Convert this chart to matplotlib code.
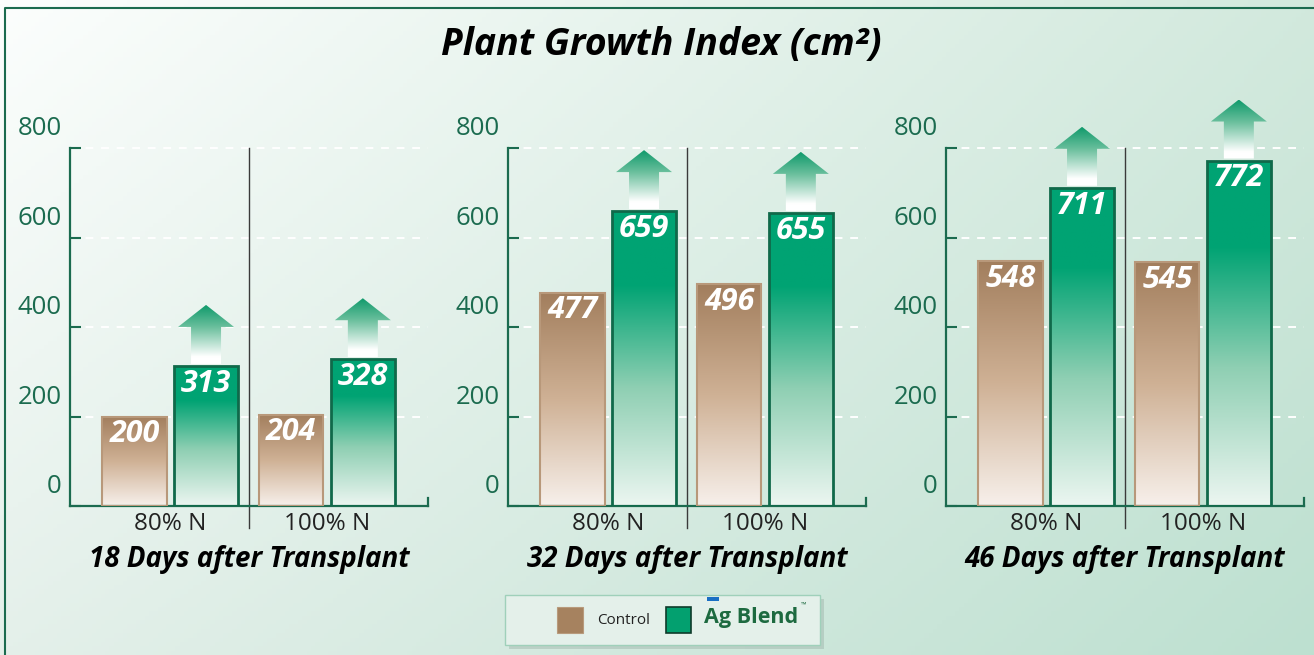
import numpy as np
import matplotlib
matplotlib.use("Agg")
import matplotlib.pyplot as plt
import matplotlib.colors as mcolors
from matplotlib.colors import LinearSegmentedColormap
from matplotlib.patches import Polygon, Rectangle

# data
days = ["18 Days after Transplant", "32 Days after Transplant", "46 Days after Transplant"]
groups = ["80% N", "100% N"]
control = [[200, 204], [477, 496], [548, 545]]
agblend = [[313, 328], [659, 655], [711, 772]]
yticks = [0, 200, 400, 600, 800]

plt.rcParams['font.family'] = ['Open Sans', 'DejaVu Sans']

W, H = 1314, 655
fig = plt.figure(figsize=(W / 100, H / 100), dpi=100)

green_dark = '#1b6b4f'
brown_cmap = LinearSegmentedColormap.from_list('brown', ['#f7f0eb', '#cfb195', '#a27e5d'])
green_cmap = LinearSegmentedColormap.from_list(
    'green', [(0, '#ecf6f1'), (0.4, '#8fcfb3'), (0.75, '#00a373'), (1, '#00a373')])
arrow_cmap = LinearSegmentedColormap.from_list(
    'arrow', [(0, 'white'), (0.12, 'white'), (0.62, '#6cc09e'), (1, '#109a6b')])
grad = np.linspace(1, 0, 256).reshape(-1, 1)

# background gradient + frame, in pixel coords
bg = fig.add_axes([0, 0, 1, 1], zorder=-10)
xx, yy = np.meshgrid(np.linspace(0, 1, 300), np.linspace(0, 1, 150))
tl, tr = np.array(mcolors.to_rgb('#fcfefd')), np.array(mcolors.to_rgb('#d2e9dd'))
bl, br = np.array(mcolors.to_rgb('#e4f0ea')), np.array(mcolors.to_rgb('#bde0d0'))
xx, yy = xx[..., None], yy[..., None]
img = tl * (1 - xx) * (1 - yy) + tr * xx * (1 - yy) + bl * (1 - xx) * yy + br * xx * yy
bg.imshow(img, extent=[0, W, H, 0], aspect='auto')
bg.set_xlim(0, W)
bg.set_ylim(H, 0)
bg.axis('off')
bg.plot([5, 5, W], [H, 8, 8], color=green_dark, lw=1.5)

fig.text(661 / W, 1 - 45 / H, 'Plant Growth Index (cm²)', ha='center', va='center',
         fontsize=27, fontweight='bold', fontstyle='italic', color='black')

lefts = [70, 508, 946]
size = 358
xpos = np.array([0.56, 1.436])
bw = 0.36

for i in range(3):
    ax = fig.add_axes([lefts[i] / W, (H - 506) / H, size / W, size / H])
    ax.set_facecolor('none')
    ax.set_xlim(0, 2)
    ax.set_ylim(0, 800)
    ppx = size / 2.0
    ppy = size / 800.0

    for s in ['top', 'right']:
        ax.spines[s].set_visible(False)
    for s in ['left', 'bottom']:
        ax.spines[s].set_color(green_dark)
        ax.spines[s].set_linewidth(1.6)

    ax.set_yticks(yticks)
    ax.set_yticklabels([])
    ax.tick_params(axis='y', direction='in', length=8, width=1.5, color=green_dark)
    ax.set_xticks(xpos, groups, fontsize=17.5, color='#222222')
    ax.tick_params(axis='x', length=0, pad=4)
    ax.set_axisbelow(True)
    ax.yaxis.grid(True, color='white', ls=(0, (4, 4)), lw=1.4)
    for gl in ax.get_ygridlines():
        gl.set_clip_on(False)

    for v in yticks:
        ax.annotate(str(v), xy=(0, v), xycoords=('axes fraction', 'data'),
                    xytext=(-6, 14), textcoords='offset points', ha='right', va='center',
                    fontsize=18.5, color=green_dark)

    # divider between groups and end tick of x axis
    ax.axvline(1, ymin=-22 / size, ymax=1, color='#3a3a3a', lw=1, clip_on=False)
    ax.plot([2, 2], [0, 8 / ppy], color=green_dark, lw=1.6, clip_on=False)

    cb = ax.bar(xpos - 0.2, control[i], bw, facecolor='none', edgecolor='#b8987a', lw=1.5, zorder=3)
    gb = ax.bar(xpos + 0.2, agblend[i], bw, facecolor='none', edgecolor='#10694a', lw=2, zorder=3)

    for bars, cmap, vals in [(cb, brown_cmap, control[i]), (gb, green_cmap, agblend[i])]:
        for rect, v in zip(bars, vals):
            x0 = rect.get_x()
            im = ax.imshow(grad, extent=(x0, x0 + rect.get_width(), 0, v), aspect='auto',
                           cmap=cmap, vmin=0, vmax=1, zorder=2)
            im.set_clip_path(rect)
            ax.annotate(str(v), xy=(x0 + rect.get_width() / 2, v), xytext=(0, -2),
                        textcoords='offset points', ha='center', va='top', color='white',
                        fontsize=22, fontweight='bold', fontstyle='italic', zorder=5)

    # up arrows over the Ag Blend bars
    for rect, v in zip(gb, agblend[i]):
        c = rect.get_x() + rect.get_width() / 2
        sw, hw = 15 / ppx, 28 / ppx
        y0 = v + 2 / ppy
        y1 = y0 + 37 / ppy
        y2 = y1 + 22 / ppy
        verts = [(c - sw, y0), (c + sw, y0), (c + sw, y1), (c + hw, y1),
                 (c, y2), (c - hw, y1), (c - sw, y1)]
        poly = Polygon(verts, closed=True, facecolor='none', edgecolor='none',
                       transform=ax.transData, clip_on=False)
        ax.add_patch(poly)
        im = ax.imshow(grad, extent=(c - hw, c + hw, y0, y2), aspect='auto',
                       cmap=arrow_cmap, vmin=0, vmax=1, zorder=4)
        im.set_clip_path(poly)
        im.set_clip_box(fig.bbox)

    ax.set_xlim(0, 2)
    ax.set_ylim(0, 800)
    ax.text(0.5, -54 / size, days[i], transform=ax.transAxes, ha='center', va='center',
            fontsize=20, fontweight='bold', fontstyle='italic', color='black')

# legend box
bg.add_patch(Rectangle((509, 599), 315, 50, facecolor='#8fa39a', alpha=0.35, lw=0))
bg.add_patch(Rectangle((505, 595), 315, 50, facecolor='#e4f0ea', edgecolor='#9fd0ba', lw=1))
bg.add_patch(Rectangle((557, 607), 26, 26, facecolor='#a6825f', edgecolor='#b89a7c', lw=0.8))
bg.text(597, 620, 'Control', ha='left', va='center', fontsize=11, color='#222222')
bg.add_patch(Rectangle((666, 607), 25, 26, facecolor='#03a06f', edgecolor='#0f3b2b', lw=1.2))
bg.add_patch(Rectangle((707, 597), 12, 4, facecolor='#1a6fc4', lw=0))
bg.text(704, 618, 'Ag Blend', ha='left', va='center', fontsize=15.5, fontweight='bold',
        color='#1d6a40')
bg.text(801, 605, '™', ha='left', va='center', fontsize=5, color='#1d6a40')

fig.savefig('out.png', dpi=100)
